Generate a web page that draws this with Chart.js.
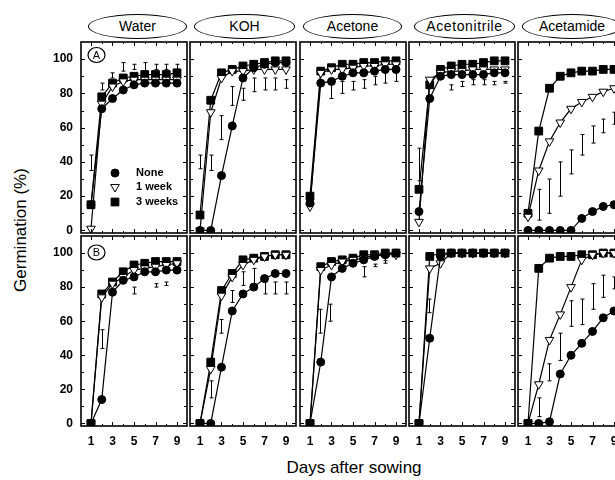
<!DOCTYPE html>
<html>
<head>
<meta charset="utf-8">
<script src="https://cdn.jsdelivr.net/npm/chart.js@4.4.1/dist/chart.umd.min.js"></script>
<style>
  html, body { margin: 0; padding: 0; background: #fff; overflow: hidden; }
  #fig { position: relative; width: 615px; height: 480px; overflow: hidden; background: #fff;
         font-family: "Liberation Sans", Arial, sans-serif; color: #000; }
  #fig canvas { position: absolute; }
  .title { position: absolute; top: 14px; height: 23px; border: 1.3px solid #000; border-radius: 50%;
           text-align: center; line-height: 23px; font-size: 14px; white-space: nowrap; }
  .ytitle { position: absolute; left: 21px; top: 230px; font-size: 17px; white-space: nowrap;
            transform: translate(-50%, -50%) rotate(-90deg); }
  .xtitle { position: absolute; left: 354px; top: 458px; font-size: 17px; white-space: nowrap;
            transform: translateX(-50%); }
</style>
</head>
<body>
<div id="fig">
  <div class="ytitle">Germination (%)</div>
  <div class="xtitle">Days after sowing</div>
</div>
<script>
// --- data ---
const days = [1, 2, 3, 4, 5, 6, 7, 8, 9];
const yTicks = [0, 20, 40, 60, 80, 100];
const xTicks = [1, 3, 5, 7, 9];
const treatments = ["Water", "KOH", "Acetone", "Acetonitrile", "Acetamide"];
const seriesNames = ["None", "1 week", "3 weeks"];

// row A
const waterA_none = [15, 71, 77, 82, 85, 86, 86, 86, 86];
const waterA_wk1  = [1, 74, 84, 87, 88, 88, 88, 88, 88];
const waterA_wk3  = [15, 78, 86, 89, 90, 91, 91, 91, 92];
const waterA_lsd  = [[1, 35, 44], [2, 82, 86], [3, 89, 92], [4, 93, 98], [5, 94, 97], [6, 93, 98], [7, 94, 97], [8, 94, 97], [9, 94, 97]];

const kohA_none = [0, 0, 32, 61, 89, 95, 97, 98, 98];
const kohA_wk1  = [0, 69, 89, 93, 93, 94, 94, 94, 94];
const kohA_wk3  = [9, 76, 92, 94, 96, 97, 98, 99, 99];
const kohA_lsd  = [[1, 36, 44], [2, 35, 44], [3, 53, 67], [4, 73, 84], [5, 76, 83], [6, 81, 89], [7, 82, 89], [8, 82, 89], [9, 83, 88]];

const acetoneA_none = [16, 86, 87, 90, 92, 92, 93, 94, 94];
const acetoneA_wk1  = [14, 92, 94, 94, 95, 96, 96, 97, 97];
const acetoneA_wk3  = [20, 93, 95, 97, 97, 98, 98, 99, 99];
const acetoneA_lsd  = [[3, 77, 87], [4, 80, 87], [5, 82, 87], [6, 83, 88], [7, 85, 90], [8, 86, 92], [9, 87, 92]];

const nitrileA_none = [11, 77, 90, 91, 91, 91, 91, 92, 92];
const nitrileA_wk1  = [5, 88, 92, 93, 93, 94, 94, 94, 94];
const nitrileA_wk3  = [24, 85, 94, 96, 97, 97, 98, 99, 99];
const nitrileA_lsd  = [[1, 29, 48], [4, 82, 85], [5, 84, 87], [6, 85, 88], [7, 85, 88], [8, 85, 87], [9, 86, 87]];

const amideA_none = [0, 0, 0, 0, 0, 7, 11, 14, 15];
const amideA_wk1  = [8, 35, 52, 63, 71, 75, 78, 81, 83];
const amideA_wk3  = [10, 58, 83, 90, 92, 93, 93, 94, 94];
const amideA_lsd  = [[2, 6, 24], [3, 10, 30], [4, 20, 40], [5, 33, 47], [6, 44, 56], [7, 51, 61], [8, 57, 65], [9, 62, 69]];

// row B
const waterB_none = [0, 14, 77, 84, 86, 89, 89, 90, 90];
const waterB_wk1  = [0, 74, 82, 86, 90, 91, 92, 93, 94];
const waterB_wk3  = [0, 76, 83, 89, 93, 94, 95, 95, 95];
const waterB_lsd  = [[2, 44, 55], [5, 76, 80], [7, 80, 82], [8, 81, 83]];

const kohB_none = [0, 0, 33, 66, 76, 80, 85, 88, 88];
const kohB_wk1  = [0, 32, 75, 86, 93, 96, 98, 99, 99];
const kohB_wk3  = [0, 36, 78, 88, 96, 97, 98, 99, 99];
const kohB_lsd  = [[2, 15, 25], [3, 53, 61], [4, 71, 78], [5, 81, 89], [6, 82, 91], [7, 76, 83], [8, 76, 83], [9, 76, 83]];

const acetoneB_none = [0, 36, 86, 91, 94, 96, 98, 99, 100];
const acetoneB_wk1  = [0, 90, 93, 95, 96, 97, 99, 99, 99];
const acetoneB_wk3  = [0, 92, 95, 96, 97, 99, 99, 100, 100];
const acetoneB_lsd  = [[1.9, 53, 67], [2.85, 60, 70], [6, 86, 92], [7, 92, 93.5], [8, 94, 95.5]];

const nitrileB_none = [0, 50, 98, 100, 100, 100, 100, 100, 100];
const nitrileB_wk1  = [0, 91, 94, 100, 100, 100, 100, 100, 100];
const nitrileB_wk3  = [0, 98, 100, 100, 100, 100, 100, 100, 100];
const nitrileB_lsd  = [[1.95, 65, 73]];

const amideB_none = [0, 0, 1, 29, 40, 47, 54, 62, 66];
const amideB_wk1  = [0, 23, 49, 64, 80, 96, 99, 100, 100];
const amideB_wk3  = [0, 91, 97, 98, 98, 99, 99, 100, 100];
const amideB_lsd  = [[2, 4, 15], [3, 25, 35], [4, 37, 53], [5, 57, 72], [6, 58, 73], [7, 67, 82], [8, 74, 87], [9, 79, 86]];

const rowA = [
  [waterA_none, waterA_wk1, waterA_wk3, waterA_lsd],
  [kohA_none, kohA_wk1, kohA_wk3, kohA_lsd],
  [acetoneA_none, acetoneA_wk1, acetoneA_wk3, acetoneA_lsd],
  [nitrileA_none, nitrileA_wk1, nitrileA_wk3, nitrileA_lsd],
  [amideA_none, amideA_wk1, amideA_wk3, amideA_lsd]
];
const rowB = [
  [waterB_none, waterB_wk1, waterB_wk3, waterB_lsd],
  [kohB_none, kohB_wk1, kohB_wk3, kohB_lsd],
  [acetoneB_none, acetoneB_wk1, acetoneB_wk3, acetoneB_lsd],
  [nitrileB_none, nitrileB_wk1, nitrileB_wk3, nitrileB_lsd],
  [amideB_none, amideB_wk1, amideB_wk3, amideB_lsd]
];

// --- layout ---
const FONT = '"Liberation Sans", Arial, sans-serif';
Chart.defaults.font.family = FONT;
Chart.defaults.color = '#000';

const colLeft = [81, 190, 300, 409, 518];
const panelW = 106;
const rowTop = [42, 236];
const rowH = [191, 190];
const PAD = 8;
const titleBox = [[88, 97], [194, 99], [303, 97], [414, 99], [522, 98]];

const fig = document.getElementById('fig');

// titles in ellipses
treatments.forEach((t, i) => {
  const d = document.createElement('div');
  d.className = 'title';
  d.style.left = titleBox[i][0] + 'px';
  d.style.width = titleBox[i][1] + 'px';
  if (t === 'Acetonitrile') d.style.letterSpacing = '0.6px';
  d.textContent = t;
  fig.appendChild(d);
});

// marker styles per series
const markers = [
  { pointStyle: 'circle', radius: 4, rotation: 0, fill: '#000' },
  { pointStyle: 'triangle', radius: 5, rotation: 180, fill: '#fff' },
  { pointStyle: 'rect', radius: 5.5, rotation: 0, fill: '#000' }
];

function drawMarker(ctx, m, x, y) {
  ctx.fillStyle = m.fill;
  ctx.strokeStyle = '#000';
  ctx.lineWidth = 1;
  Chart.helpers.drawPoint(ctx, { pointStyle: m.pointStyle, radius: m.radius, rotation: m.rotation, borderWidth: 1 }, x, y);
}

// frame, inner ticks, LSD bars, panel letter and legend
const framePlugin = {
  id: 'frame',
  beforeDatasetsDraw(chart, args, opts) {
    const { ctx, scales: { x, y } } = chart;
    ctx.save();
    ctx.strokeStyle = '#000';
    ctx.lineWidth = 1;
    ctx.beginPath();
    opts.lsd.forEach(([d, lo, hi]) => {
      const px = Math.round(x.getPixelForValue(d)) + 0.5;
      const p1 = y.getPixelForValue(lo), p2 = y.getPixelForValue(hi);
      ctx.moveTo(px, p1); ctx.lineTo(px, p2);
      ctx.moveTo(px - 2, p1); ctx.lineTo(px + 2, p1);
      ctx.moveTo(px - 2, p2); ctx.lineTo(px + 2, p2);
    });
    ctx.stroke();
    ctx.restore();
  },
  afterDatasetsDraw(chart, args, opts) {
    const { ctx, chartArea: a, scales: { x, y } } = chart;
    ctx.save();
    ctx.strokeStyle = '#000';
    ctx.lineWidth = 1.6;
    ctx.strokeRect(a.left, a.top, a.width, a.height);

    ctx.lineWidth = 1;
    ctx.beginPath();
    for (let v = 0; v <= 100; v += 10) {
      const py = Math.round(y.getPixelForValue(v)) + 0.5;
      const len = v % 20 === 0 ? 4 : 3;
      ctx.moveTo(a.left, py); ctx.lineTo(a.left + len, py);
      ctx.moveTo(a.right, py); ctx.lineTo(a.right - len, py);
    }
    days.forEach(d => {
      const px = Math.round(x.getPixelForValue(d)) + 0.5;
      const len = d % 2 ? 4 : 2;
      ctx.moveTo(px, a.top); ctx.lineTo(px, a.top + len);
      ctx.moveTo(px, a.bottom); ctx.lineTo(px, a.bottom - len);
    });
    ctx.stroke();

    if (opts.letter) {
      const cx = a.left + 15.5, cy = a.top + opts.letterY;
      ctx.lineWidth = 1.2;
      ctx.beginPath();
      ctx.ellipse(cx, cy, 8.5, 7.5, 0, 0, Math.PI * 2);
      ctx.stroke();
      ctx.fillStyle = '#000';
      ctx.font = '11px ' + FONT;
      ctx.textAlign = 'center';
      ctx.textBaseline = 'middle';
      ctx.fillText(opts.letter, cx, cy + 0.5);
    }

    if (opts.legend) {
      const rows = [131, 145, 160];
      ctx.font = 'bold 11px ' + FONT;
      ctx.textAlign = 'left';
      ctx.textBaseline = 'middle';
      seriesNames.forEach((name, i) => {
        drawMarker(ctx, markers[i], a.left + 34, a.top + rows[i]);
        ctx.fillStyle = '#000';
        ctx.fillText(name, a.left + 55, a.top + rows[i]);
      });
    }
    ctx.restore();
  }
};

function makeSet(vals, i) {
  const m = markers[i];
  return {
    label: seriesNames[i],
    data: days.map((d, k) => ({ x: d, y: vals[k] })),
    showLine: true,
    borderColor: '#000',
    borderWidth: 1.2,
    pointStyle: m.pointStyle,
    pointRadius: m.radius,
    pointRotation: m.rotation,
    pointBackgroundColor: m.fill,
    pointBorderColor: '#000',
    pointBorderWidth: 1
  };
}

function noScalePadding(s) {
  s.paddingTop = 0; s.paddingBottom = 0; s.paddingLeft = 0; s.paddingRight = 0;
}

function makePanel(row, col, series) {
  const showY = col === 0;
  const showX = row === 1;
  const padL = showY ? PAD + 42 : PAD;
  const padB = showX ? PAD + 22 : PAD;
  const W = panelW + padL + PAD;
  const H = rowH[row] + PAD + padB;
  const cv = document.createElement('canvas');
  cv.width = W; cv.height = H;
  cv.style.width = W + 'px'; cv.style.height = H + 'px';
  cv.style.left = (colLeft[col] - padL) + 'px';
  cv.style.top = (rowTop[row] - PAD) + 'px';
  fig.appendChild(cv);

  new Chart(cv.getContext('2d'), {
    type: 'scatter',
    data: { datasets: [makeSet(series[0], 0), makeSet(series[1], 1), makeSet(series[2], 2)] },
    options: {
      responsive: false,
      animation: false,
      events: [],
      layout: { autoPadding: false, padding: PAD },
      plugins: {
        legend: { display: false },
        tooltip: { enabled: false },
        frame: {
          lsd: series[3],
          letter: showY ? (row === 0 ? 'A' : 'B') : null,
          letterY: row === 0 ? 13 : 16.5,
          legend: row === 0 && col === 0
        }
      },
      scales: {
        x: {
          type: 'linear', min: 0.07, max: 9.93,
          display: showX,
          afterBuildTicks: s => { s.ticks = xTicks.map(v => ({ value: v })); },
          afterFit: s => { if (showX) s.height = 22; noScalePadding(s); },
          grid: { display: false, drawTicks: false },
          border: { display: false },
          ticks: { padding: 8, autoSkip: false, maxRotation: 0, color: '#000',
                   font: { size: 12, weight: 'bold' } }
        },
        y: {
          min: -1.5, max: 110,
          display: showY,
          afterBuildTicks: s => { s.ticks = yTicks.map(v => ({ value: v })); },
          afterFit: s => { if (showY) s.width = 42; noScalePadding(s); },
          grid: { display: false, drawTicks: false },
          border: { display: false },
          ticks: { padding: 8, color: '#000', font: { size: 12, weight: 'bold' } }
        }
      }
    },
    plugins: [framePlugin]
  });
}

rowA.forEach((s, col) => makePanel(0, col, s));
rowB.forEach((s, col) => makePanel(1, col, s));
</script>
</body>
</html>
